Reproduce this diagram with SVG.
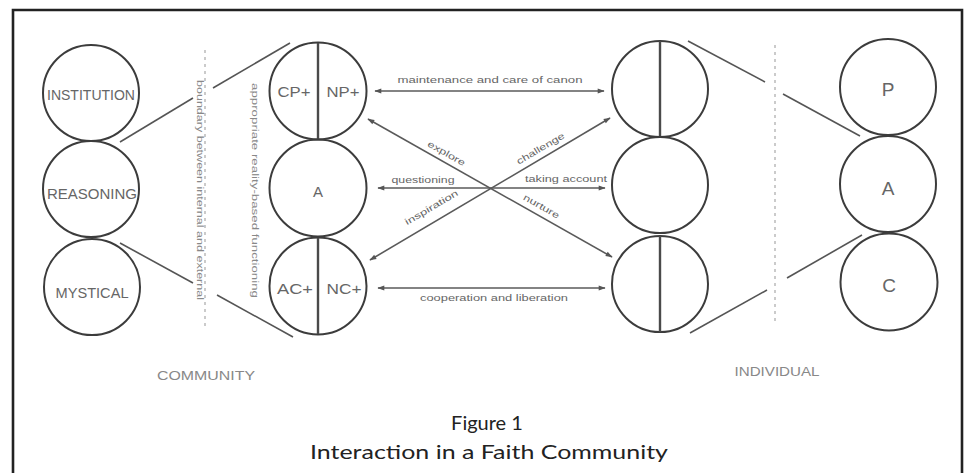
<svg xmlns="http://www.w3.org/2000/svg" width="970" height="473" viewBox="0 0 970 473">
<defs>
<marker id="ah" viewBox="0 0 10 10" refX="9" refY="5" markerWidth="9" markerHeight="7" orient="auto-start-reverse" markerUnits="userSpaceOnUse">
<path d="M0,1.5 L10,5 L0,8.5 Z" fill="#555"/>
</marker>
<style>
.c{fill:none;stroke:#3c3c3c;stroke-width:2}
.dv{stroke:#4a4a4a;stroke-width:2.4}
.ln{stroke:#555;stroke-width:1.6;fill:none}
.ar{stroke:#5a5a5a;stroke-width:1.6;fill:none;marker-start:url(#ah);marker-end:url(#ah)}
.dot{stroke:#bbb;stroke-width:1.5;stroke-dasharray:3 4}
.nl{font-family:"Liberation Sans",Arial,sans-serif;font-size:15px;fill:#666;text-anchor:middle}
.sm{font-family:"Liberation Sans",Arial,sans-serif;font-size:9px;fill:#666;text-anchor:middle}
.vt{font-family:"Liberation Sans",Arial,sans-serif;font-size:9px;fill:#888}
.big{font-family:"Liberation Sans",Arial,sans-serif;font-size:19px;fill:#666;text-anchor:middle}
.sec{font-family:"Liberation Sans",Arial,sans-serif;font-size:13px;fill:#888;text-anchor:middle}
.cap{font-family:Lato,"Open Sans",sans-serif;font-size:20px;fill:#222;text-anchor:middle}
</style>
</defs>
<rect width="970" height="473" fill="#fff"/>
<path d="M13,473 V10 H962 V473" fill="none" stroke="#222" stroke-width="2.6"/>

<g id="boundaries">
<line class="dot" x1="205" y1="50" x2="205" y2="330"/>
<line class="dot" x1="775" y1="45" x2="775" y2="325"/>
<text class="vt" transform="translate(197,80) rotate(90)" textLength="220" lengthAdjust="spacingAndGlyphs">boundary between internal and external</text>
<text class="vt" transform="translate(252,83) rotate(90)" textLength="215" lengthAdjust="spacingAndGlyphs">appropriate reality-based functioning</text>
</g>

<g id="institution"><circle class="c" cx="91" cy="93" r="48"/><text class="nl" x="91" y="100" textLength="88" lengthAdjust="spacingAndGlyphs">INSTITUTION</text></g>
<g id="reasoning"><circle class="c" cx="91" cy="189" r="48"/><text class="nl" x="92" y="199" textLength="90" lengthAdjust="spacingAndGlyphs">REASONING</text></g>
<g id="mystical"><circle class="c" cx="92" cy="287" r="48"/><text class="nl" x="92" y="298" textLength="73" lengthAdjust="spacingAndGlyphs">MYSTICAL</text></g>

<g id="c-top"><circle class="c" cx="318" cy="91" r="48.5"/><line class="dv" x1="318" y1="43" x2="318" y2="139"/><text class="nl" x="294" y="97" font-size="14" textLength="33" lengthAdjust="spacingAndGlyphs">CP+</text><text class="nl" x="343" y="97" font-size="14" textLength="33" lengthAdjust="spacingAndGlyphs">NP+</text></g>
<g id="c-mid"><circle class="c" cx="318" cy="188" r="48.5"/><text class="nl" x="318" y="197">A</text></g>
<g id="c-bot"><circle class="c" cx="318" cy="286" r="48.5"/><line class="dv" x1="318" y1="238" x2="318" y2="334"/><text class="nl" x="295" y="294" font-size="14" textLength="36" lengthAdjust="spacingAndGlyphs">AC+</text><text class="nl" x="344" y="294" font-size="14" textLength="35" lengthAdjust="spacingAndGlyphs">NC+</text></g>

<g id="i-top"><circle class="c" cx="660" cy="89" r="48"/><line class="dv" x1="660" y1="41" x2="660" y2="137"/></g>
<g id="i-mid"><circle class="c" cx="660" cy="185" r="48"/></g>
<g id="i-bot"><circle class="c" cx="660" cy="284" r="48"/><line class="dv" x1="660" y1="236" x2="660" y2="332"/></g>

<g id="p"><circle class="c" cx="888" cy="87" r="48"/><text class="big" x="888" y="96">P</text></g>
<g id="a"><circle class="c" cx="888" cy="184" r="48"/><text class="big" x="888" y="195">A</text></g>
<g id="c"><circle class="c" cx="889" cy="282" r="48.5"/><text class="big" x="889" y="292">C</text></g>

<g id="connectors">
<line class="ln" x1="120" y1="142" x2="193" y2="98"/>
<line class="ln" x1="213" y1="88" x2="290" y2="43"/>
<line class="ln" x1="120" y1="243" x2="193" y2="283"/>
<line class="ln" x1="217" y1="295" x2="293" y2="337"/>
<line class="ln" x1="688" y1="41" x2="765" y2="82"/>
<line class="ln" x1="783" y1="94" x2="860" y2="136"/>
<line class="ln" x1="862" y1="235" x2="787" y2="278"/>
<line class="ln" x1="767" y1="290" x2="690" y2="333"/>
<line class="ar" x1="375" y1="91" x2="604" y2="91"/>
<line class="ar" x1="378" y1="188" x2="605" y2="188"/>
<line class="ar" x1="378" y1="288" x2="605" y2="288"/>
<line class="ar" x1="368" y1="119" x2="612" y2="257"/>
<line class="ar" x1="610" y1="118" x2="370" y2="260"/>
</g>

<g id="labels">
<text class="sm" x="490" y="83" textLength="185" lengthAdjust="spacingAndGlyphs">maintenance and care of canon</text>
<text class="sm" x="423" y="183" textLength="63" lengthAdjust="spacingAndGlyphs">questioning</text>
<text class="sm" x="566" y="182" textLength="82" lengthAdjust="spacingAndGlyphs">taking account</text>
<text class="sm" x="494" y="301" textLength="148" lengthAdjust="spacingAndGlyphs">cooperation and liberation</text>
<text class="sm" transform="translate(445,156) rotate(29.5)" textLength="42" lengthAdjust="spacingAndGlyphs">explore</text>
<text class="sm" transform="translate(540,209) rotate(29.5)" textLength="40" lengthAdjust="spacingAndGlyphs">nurture</text>
<text class="sm" transform="translate(542,151) rotate(-30.4)" textLength="54" lengthAdjust="spacingAndGlyphs">challenge</text>
<text class="sm" transform="translate(433,210) rotate(-30.4)" textLength="60" lengthAdjust="spacingAndGlyphs">inspiration</text>
<text class="sec" x="206" y="380" textLength="98" lengthAdjust="spacingAndGlyphs">COMMUNITY</text>
<text class="sec" x="777" y="376" textLength="85" lengthAdjust="spacingAndGlyphs">INDIVIDUAL</text>
</g>

<g id="caption">
<text class="cap" x="487" y="430">Figure 1</text>
<text class="cap" x="489" y="459" textLength="358" lengthAdjust="spacingAndGlyphs">Interaction in a Faith Community</text>
</g>
</svg>
